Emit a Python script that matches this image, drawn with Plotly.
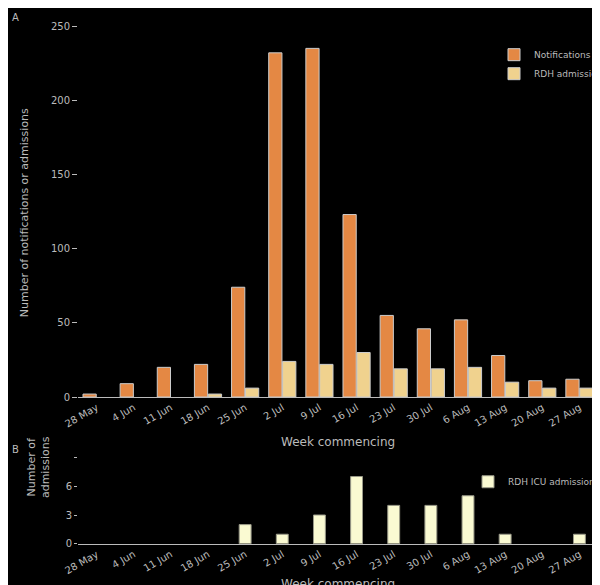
import plotly.graph_objects as go

weeks = ["28 May", "4 Jun", "11 Jun", "18 Jun", "25 Jun", "2 Jul", "9 Jul",
         "16 Jul", "23 Jul", "30 Jul", "6 Aug", "13 Aug", "20 Aug", "27 Aug"]
notifications = [2, 9, 20, 22, 74, 232, 235, 123, 55, 46, 52, 28, 11, 12]
rdh_admissions = [None, None, None, 2, 6, 24, 22, 30, 19, 19, 20, 10, 6, 6]
icu_admissions = [None, None, None, None, 2, 1, 3, 7, 4, 4, 5, 1, None, 1]

GREY = "#bbbbbb"
FONT = dict(family="DejaVu Sans", size=10, color=GREY)
outline = dict(color="#cccccc", width=1)

fig = go.Figure()
fig.add_trace(go.Bar(x=weeks, y=notifications, name="Notifications",
                     marker=dict(color="#e48844", line=outline),
                     xaxis="x", yaxis="y", legend="legend"))
fig.add_trace(go.Bar(x=weeks, y=rdh_admissions, name="RDH admissions",
                     marker=dict(color="#f0d28e", line=outline),
                     xaxis="x", yaxis="y", legend="legend"))
fig.add_trace(go.Bar(x=weeks, y=icu_admissions, name="RDH ICU admissions",
                     marker=dict(color="#fafad2", line=dict(color="#999988", width=1)),
                     width=0.32, xaxis="x2", yaxis="y2", legend="legend2"))

axis_common = dict(showgrid=False, zeroline=False, showline=True, linecolor=GREY,
                   linewidth=1, tickfont=FONT, tickangle=-30, ticks="",
                   automargin=False)
yaxis_common = dict(showgrid=False, zeroline=False, showline=False, ticks="outside",
                    tickcolor=GREY, tickfont=FONT, automargin=False)
fig.update_layout(
    width=600, height=585,
    paper_bgcolor="black", plot_bgcolor="black",
    font=FONT, barmode="group", bargap=0.25, bargroupgap=0.05,
    margin=dict(l=70, r=10, t=0, b=0, autoexpand=False),
    xaxis=dict(axis_common, anchor="y"),
    yaxis=dict(yaxis_common, domain=[0.335, 0.969], range=[0, 250],
               tickvals=[0, 50, 100, 150, 200, 250], ticklen=5),
    xaxis2=dict(axis_common, anchor="y2"),
    yaxis2=dict(yaxis_common, domain=[0.084, 0.232], range=[0, 9],
                tickvals=[0, 3, 6, 9], ticktext=["0", "3", "6", ""], ticklen=3),
    legend=dict(x=0.80, y=0.945, xanchor="left", yanchor="top", bgcolor="rgba(0,0,0,0)",
                font=dict(FONT, size=9)),
    legend2=dict(x=0.75, y=0.215, xanchor="left", yanchor="top", bgcolor="rgba(0,0,0,0)",
                 font=dict(FONT, size=9)),
    showlegend=True,
    annotations=[
        dict(text="A", x=0, y=1, xref="paper", yref="paper", xshift=-68, yshift=-2,
             showarrow=False, xanchor="left", yanchor="top", font=FONT),
        dict(text="B", x=0, y=0.258, xref="paper", yref="paper", xshift=-68,
             showarrow=False, xanchor="left", yanchor="top", font=FONT),
        dict(text="Week commencing", x=0.5, y=0.243, xref="paper", yref="paper",
             showarrow=False, yanchor="bottom", font=dict(FONT, size=12)),
        dict(text="Week commencing", x=0.5, y=0.0, xref="paper", yref="paper",
             showarrow=False, yanchor="bottom", font=dict(FONT, size=12)),
        dict(text="Number of notifications or admissions", x=0, y=0.65, xref="paper",
             yref="paper", xshift=-62, textangle=-90, showarrow=False,
             font=dict(FONT, size=11)),
        dict(text="Number of<br>admissions", x=0, y=0.158, xref="paper",
             yref="paper", xshift=-55, textangle=-90, showarrow=False,
             font=dict(FONT, size=11)),
    ],
)

fig.write_html("out.html")
